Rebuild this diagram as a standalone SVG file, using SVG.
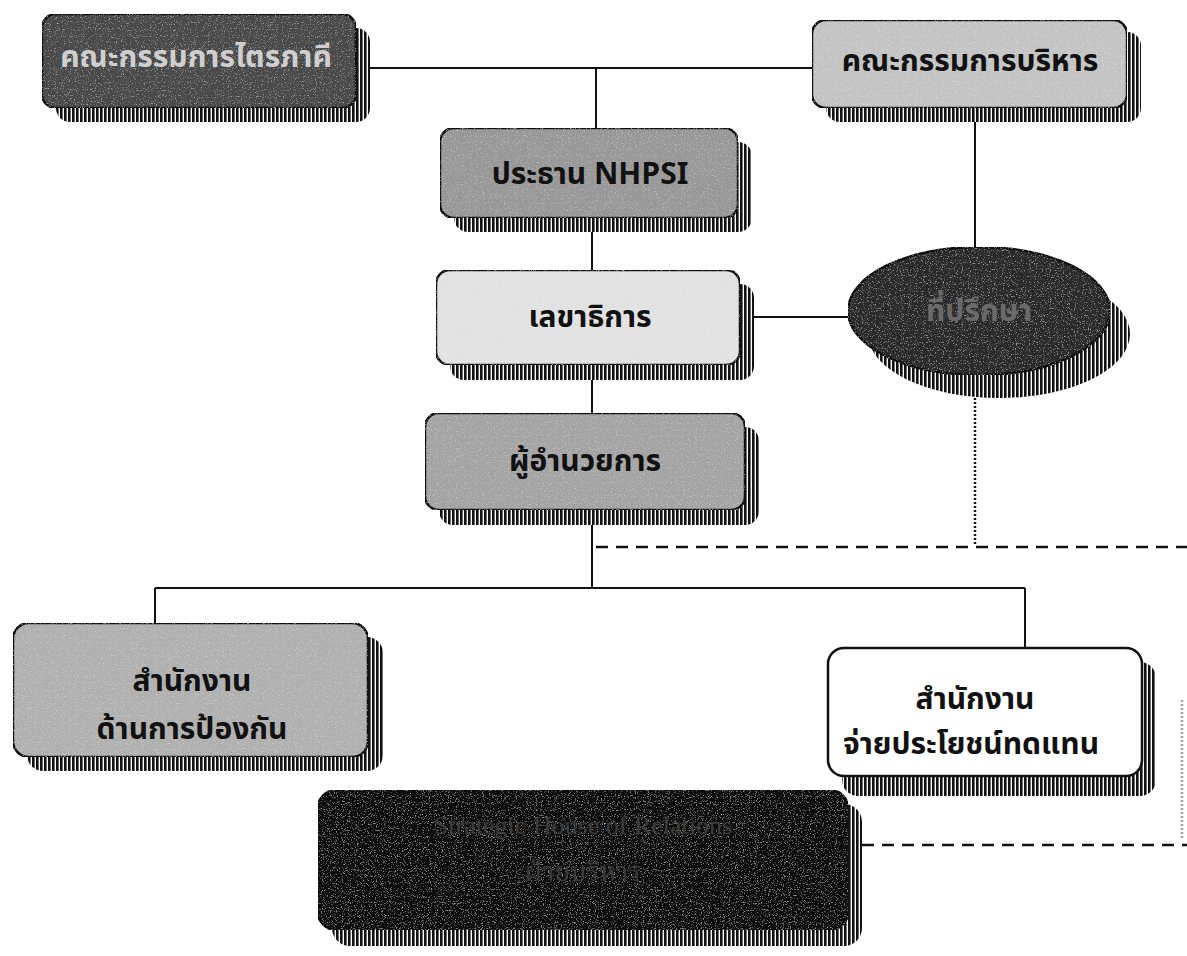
<svg xmlns="http://www.w3.org/2000/svg" width="1187" height="956" viewBox="0 0 1187 956">
<defs>
<pattern id="stripes" width="4" height="4" patternUnits="userSpaceOnUse">
<rect width="4" height="4" fill="#ffffff"/>
<rect width="2.6" height="4" fill="#111111"/>
</pattern>
<filter id="grain" x="0" y="0" width="100%" height="100%">
<feTurbulence type="fractalNoise" baseFrequency="0.85" numOctaves="2" seed="5" result="n"/>
<feColorMatrix in="n" type="matrix" values="0 0 0 0 1  0 0 0 0 1  0 0 0 0 1  3 0 0 0 -1.75" result="w"/>
<feComposite in="w" in2="SourceGraphic" operator="in" result="wm"/>
<feComponentTransfer in="wm" result="wf"><feFuncA type="linear" slope="0.45"/></feComponentTransfer>
<feMerge><feMergeNode in="SourceGraphic"/><feMergeNode in="wf"/></feMerge>
</filter>
</defs>
<style>
.box{stroke:#111;stroke-width:2.5}
.shadow{fill:url(#stripes)}
.lbl{font-family:"Noto Sans Thai","Noto Serif Thai","Liberation Serif",serif;font-weight:bold;font-size:30px;text-anchor:middle;dominant-baseline:central}
.dim{font-family:"Liberation Serif","Noto Serif Thai",serif;font-weight:normal;font-size:26px}
.conn{stroke:#111;stroke-width:2;fill:none}
.dash{stroke:#111;stroke-width:2.5;fill:none;stroke-dasharray:12 8}
.dot{stroke:#111;stroke-width:2.5;fill:none;stroke-dasharray:2 2}
</style>
<rect width="1187" height="956" fill="#ffffff"/>
<g id="connectors">
<line class="conn" x1="356" y1="68" x2="812" y2="68"/>
<line class="conn" x1="596" y1="68" x2="596" y2="128"/>
<line class="conn" x1="975" y1="120" x2="975" y2="247"/>
<line class="conn" x1="592" y1="230" x2="592" y2="270"/>
<line class="conn" x1="740" y1="317" x2="848" y2="317"/>
<line class="conn" x1="592" y1="378" x2="592" y2="413"/>
<line class="conn" x1="592" y1="523" x2="592" y2="588"/>
<line class="conn" x1="155" y1="588" x2="1025" y2="588"/>
<line class="conn" x1="155" y1="588" x2="155" y2="623"/>
<line class="conn" x1="1025" y1="588" x2="1025" y2="648"/>
<line class="dot" x1="975" y1="398" x2="975" y2="546"/>
<line class="dash" x1="596" y1="547" x2="1187" y2="547"/>
<line class="dash" x1="862" y1="845" x2="1187" y2="845"/>
<line class="dot" x1="1182" y1="700" x2="1182" y2="840" stroke-opacity="0.4"/>
</g>
<g id="node-tripartite">
<rect class="shadow" x="56" y="28" width="314" height="94" rx="14"/>
<rect class="box" x="42" y="14" width="314" height="94" rx="14" fill="#4a4a4a" filter="url(#grain)"/>
<text class="lbl" x="196" y="58" fill="#cfcfcf">คณะกรรมการไตรภาคี</text>
</g>
<g id="node-executive">
<rect class="shadow" x="826" y="32" width="315" height="90" rx="14"/>
<rect class="box" x="812" y="20" width="315" height="88" rx="14" fill="#c4c4c4" filter="url(#grain)"/>
<text class="lbl" x="970" y="62" fill="#111">คณะกรรมการบริหาร</text>
</g>
<g id="node-chairman">
<rect class="shadow" x="454" y="142" width="298" height="90" rx="14"/>
<rect class="box" x="440" y="128" width="298" height="90" rx="14" fill="#989898" filter="url(#grain)"/>
<text class="lbl" x="590" y="175" fill="#111">ประธาน NHPSI</text>
</g>
<g id="node-secretary">
<rect class="shadow" x="450" y="284" width="304" height="96" rx="14"/>
<rect class="box" x="436" y="270" width="304" height="95" rx="14" fill="#e2e2e2" filter="url(#grain)"/>
<text class="lbl" x="590" y="318" fill="#111">เลขาธิการ</text>
</g>
<g id="node-advisor">
<ellipse class="shadow" cx="999" cy="334" rx="131" ry="64"/>
<ellipse class="box" cx="979" cy="311" rx="131" ry="64" fill="#2a2a2a" filter="url(#grain)"/>
<text class="lbl" x="979" y="312" fill="#6a6a6a">ที่ปรึกษา</text>
</g>
<g id="node-director">
<rect class="shadow" x="439" y="427" width="320" height="98" rx="14"/>
<rect class="box" x="425" y="413" width="320" height="97" rx="14" fill="#a4a4a4" filter="url(#grain)"/>
<text class="lbl" x="585" y="462" fill="#111">ผู้อำนวยการ</text>
</g>
<g id="node-prevention">
<rect class="shadow" x="27" y="637" width="356" height="134" rx="16"/>
<rect class="box" x="13" y="623" width="355" height="134" rx="16" fill="#b0b0b0" filter="url(#grain)"/>
<text class="lbl" x="192" y="682" fill="#111">สำนักงาน</text>
<text class="lbl" x="192" y="730" fill="#111">ด้านการป้องกัน</text>
</g>
<g id="node-compensation">
<rect class="shadow" x="842" y="662" width="314" height="134" rx="16"/>
<rect class="box" x="828" y="648" width="314" height="128" rx="16" fill="#ffffff"/>
<text class="lbl" x="975" y="700" fill="#111">สำนักงาน</text>
<text class="lbl" x="971" y="745" fill="#111">จ่ายประโยชน์ทดแทน</text>
</g>
<g id="node-bottom">
<rect class="shadow" x="332" y="804" width="530" height="142" rx="18"/>
<rect class="box" x="318" y="790" width="530" height="140" rx="18" fill="#0a0a0a" filter="url(#grain)"/>
<text class="lbl dim" x="583" y="825" fill="#3c3c3c">Strategic House of Relations</text>
<text class="lbl dim" x="583" y="872" fill="#3c3c3c">ฝ่ายบริหาร</text>
</g>
</svg>
